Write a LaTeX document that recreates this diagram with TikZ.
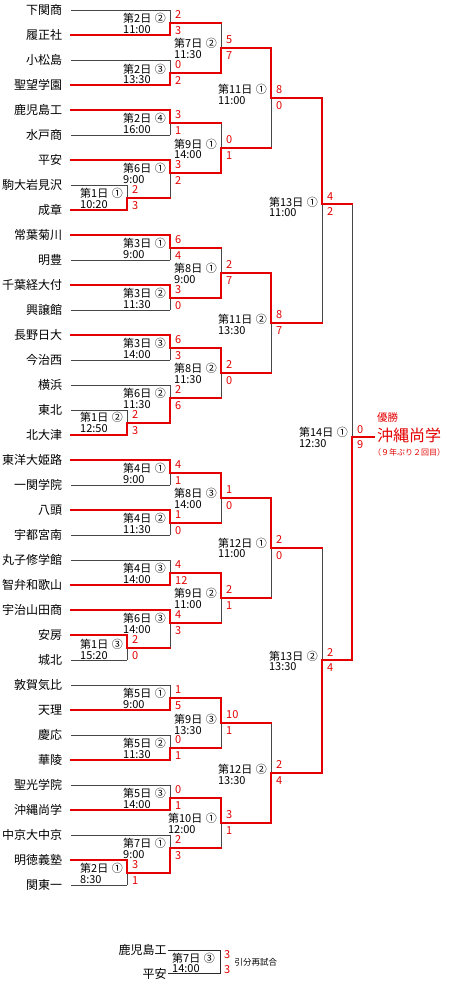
\documentclass[tikz,border=0pt]{standalone}
\usepackage{fontspec}
\setmainfont{Noto Sans CJK JP}
\usetikzlibrary{positioning}
\definecolor{wincol}{RGB}{228,0,0}
\definecolor{losecol}{RGB}{70,70,70}

\tikzset{
  team/.style={anchor=east, inner sep=0pt, outer xsep=9pt,
               font=\fontsize{12}{14}\selectfont},
  rteam/.style={team, outer xsep=1.5pt},
  win/.style={draw=wincol, line width=2pt, line cap=rect},
  lose/.style={draw=losecol, line width=1pt},
  score/.style={anchor=base west, inner sep=0pt, text=wincol,
                font=\fontsize{11}{11}\selectfont},
  daylabel/.style={anchor=east, align=left, inner sep=0pt,
                   font=\fontsize{11}{10.7}\selectfont},
}

\begin{document}
\begin{tikzpicture}[x=1pt, y=-1pt]
  \useasboundingbox (0,0) rectangle (474,985);

  % teams
  \foreach \name [count=\i from 0] in {下関商,履正社,小松島,聖望学園,鹿児島工,水戸商,
      平安,駒大岩見沢,成章,常葉菊川,明豊,千葉経大付,興譲館,長野日大,今治西,横浜,
      東北,北大津,東洋大姫路,一関学院,八頭,宇都宮南,丸子修学館,智弁和歌山,
      宇治山田商,安房,城北,敦賀気比,天理,慶応,華陵,聖光学院,沖縄尚学,中京大中京,
      明徳義塾,関東一}
    \node[team] (t\i) at (71,{10+25*\i}) {\name};

  % games: name/x/y/winner/loser/top score/bottom score/day/no/time/label shift
  \foreach \gm/\gx/\gy/\gw/\gl/\sa/\sb/\dd/\rr/\tm/\dy in {
      S1/127/197.5/t8/t7/2/3/1/①/10:20/1.2,
      S2/127/422.5/t17/t16/2/3/1/②/12:50/0,
      S3/127/647.5/t25/t26/2/0/1/③/15:20/2,
      S4/127/872.5/t34/t35/3/1/2/①/8:30/0.8,
      G1/170/22.5/t1/t0/2/3/2/②/11:00/1.2,
      G2/170/72.5/t3/t2/0/2/2/③/13:30/1.5,
      G3/170/122.5/t4/t5/3/1/2/④/16:00/1.2,
      G4/170/172.5/t6/S1/3/2/6/①/9:00/1.2,
      G5/170/247.5/t9/t10/6/4/3/①/9:00/1.2,
      G6/170/297.5/t11/t12/3/0/3/②/11:30/1.2,
      G7/170/347.5/t13/t14/6/3/3/③/14:00/1.2,
      G8/170/397.5/S2/t15/2/6/6/②/11:30/1.2,
      G9/170/472.5/t18/t19/4/1/4/①/9:00/1.2,
      G10/170/522.5/t20/t21/1/0/4/②/11:30/1.2,
      G11/170/572.5/t23/t22/4/12/4/③/14:00/1.2,
      G12/170/622.5/t24/S3/4/3/6/③/14:00/1.2,
      G13/170/697.5/t28/t27/1/5/5/①/9:00/1.2,
      G14/170/747.5/t30/t29/0/1/5/②/11:30/1.2,
      G15/170/797.5/t32/t31/0/1/5/③/14:00/1.2,
      G16/170/847.5/S4/t33/2/3/7/①/9:00/1.2,
      H1/221/47.5/G2/G1/5/7/7/②/11:30/1.2,
      H2/221/147.5/G4/G3/0/1/9/①/14:00/1.5,
      H3/221/272.5/G6/G5/2/7/8/①/9:00/1.2,
      H4/221/372.5/G7/G8/2/0/8/②/11:30/1.2,
      H5/221/497.5/G9/G10/1/0/8/③/14:00/1.2,
      H6/221/597.5/G11/G12/2/1/9/②/11:00/1.2,
      H7/221/722.5/G13/G14/10/1/9/③/13:30/2,
      H8/221/822.5/G15/G16/3/1/10/①/12:00/1.2,
      J1/271/97.5/H1/H2/8/0/11/①/11:00/-2.8,
      J2/271/322.5/H3/H4/8/7/11/②/13:30/1.8,
      J3/271/547.5/H5/H6/2/0/12/①/11:00/0.5,
      J4/271/772.5/H8/H7/2/4/12/②/13:30/2,
      K1/322/204/J1/J2/4/2/13/①/11:00/3,
      K2/322/660/J4/J3/2/4/13/②/13:30/1,
      F/352/437/K2/K1/0/9/14/①/12:30/0.5}{
    \coordinate (\gm) at (\gx,\gy);
    \draw[lose] (\gl -| \gm) -- (\gm);
    \draw[win] (\gw -| \gm) -- (\gm);
    \node[score] (\gm-a) at ([shift={(5,-3.7)}]\gm) {\sa};
    \node[score] (\gm-b) at ([shift={(5,11.8)}]\gm) {\sb};
    \node[daylabel] (\gm-lab) at ([shift={(-4,\dy)}]\gm) {第\dd{}日\hspace{3.5pt}\rr\\\tm};
  }

  % team lines
  \foreach \i/\g/\c in {0/G1/lose,1/G1/win,2/G2/lose,3/G2/win,4/G3/win,5/G3/lose,
      6/G4/win,7/S1/lose,8/S1/win,9/G5/win,10/G5/lose,11/G6/win,12/G6/lose,
      13/G7/win,14/G7/lose,15/G8/lose,16/S2/lose,17/S2/win,18/G9/win,19/G9/lose,
      20/G10/win,21/G10/lose,22/G11/lose,23/G11/win,24/G12/win,25/S3/win,
      26/S3/lose,27/G13/lose,28/G13/win,29/G14/lose,30/G14/win,31/G15/lose,
      32/G15/win,33/G16/lose,34/S4/win,35/S4/lose}
    \draw[\c] (t\i) -- (t\i -| \g);

  % winners moving on
  \foreach \u/\v in {S1/G4,S2/G8,S3/G12,S4/G16,G1/H1,G2/H1,G3/H2,G4/H2,G5/H3,
      G6/H3,G7/H4,G8/H4,G9/H5,G10/H5,G11/H6,G12/H6,G13/H7,G14/H7,G15/H8,G16/H8,
      H1/J1,H2/J1,H3/J2,H4/J2,H5/J3,H6/J3,H7/J4,H8/J4,J1/K1,J2/K1,J3/K2,J4/K2,
      K1/F,K2/F}
    \draw[win] (\u) -- (\u -| \v);

  % champion
  \coordinate (champ) at (374,437);
  \draw[win] (F) -- (champ);
  \node[anchor=west, inner sep=0pt, text=wincol, font=\fontsize{16}{18}\selectfont]
    (champname) at (377,435.5) {沖縄尚学};
  \node[above=5pt of champname.north west, anchor=south west, inner sep=0pt,
        text=wincol, font=\fontsize{10.5}{12}\selectfont] (yusho) {優勝};
  \node[below=5.5pt of champname.south west, anchor=north west, xshift=-4pt,
        inner sep=0pt, text=wincol, font=\fontsize{8}{9}\selectfont] (times)
        {（９年ぶり２回目）};

  % replay
  \node[rteam] (rk) at (168,950) {鹿児島工};
  \node[rteam] (rh) at (168,973.5) {平安};
  \coordinate (R) at (220,961.75);
  \draw[lose, losecol!60!black] (rk) -- (rk -| R) -- (rh -| R) -- (rh);
  \node[daylabel] (R-lab) at ([shift={(-5,1.2)}]R) {第7日\hspace{3.5pt}③\\14:00};
  \node[score] (R-a) at ([shift={(4,-3.7)}]R) {3};
  \node[score] (R-b) at ([shift={(4,11.8)}]R) {3};
  \node[anchor=west, inner sep=0pt, font=\fontsize{8.5}{10}\selectfont] (R-note)
    at ([shift={(14.5,1)}]R) {引分再試合};
\end{tikzpicture}
\end{document}
